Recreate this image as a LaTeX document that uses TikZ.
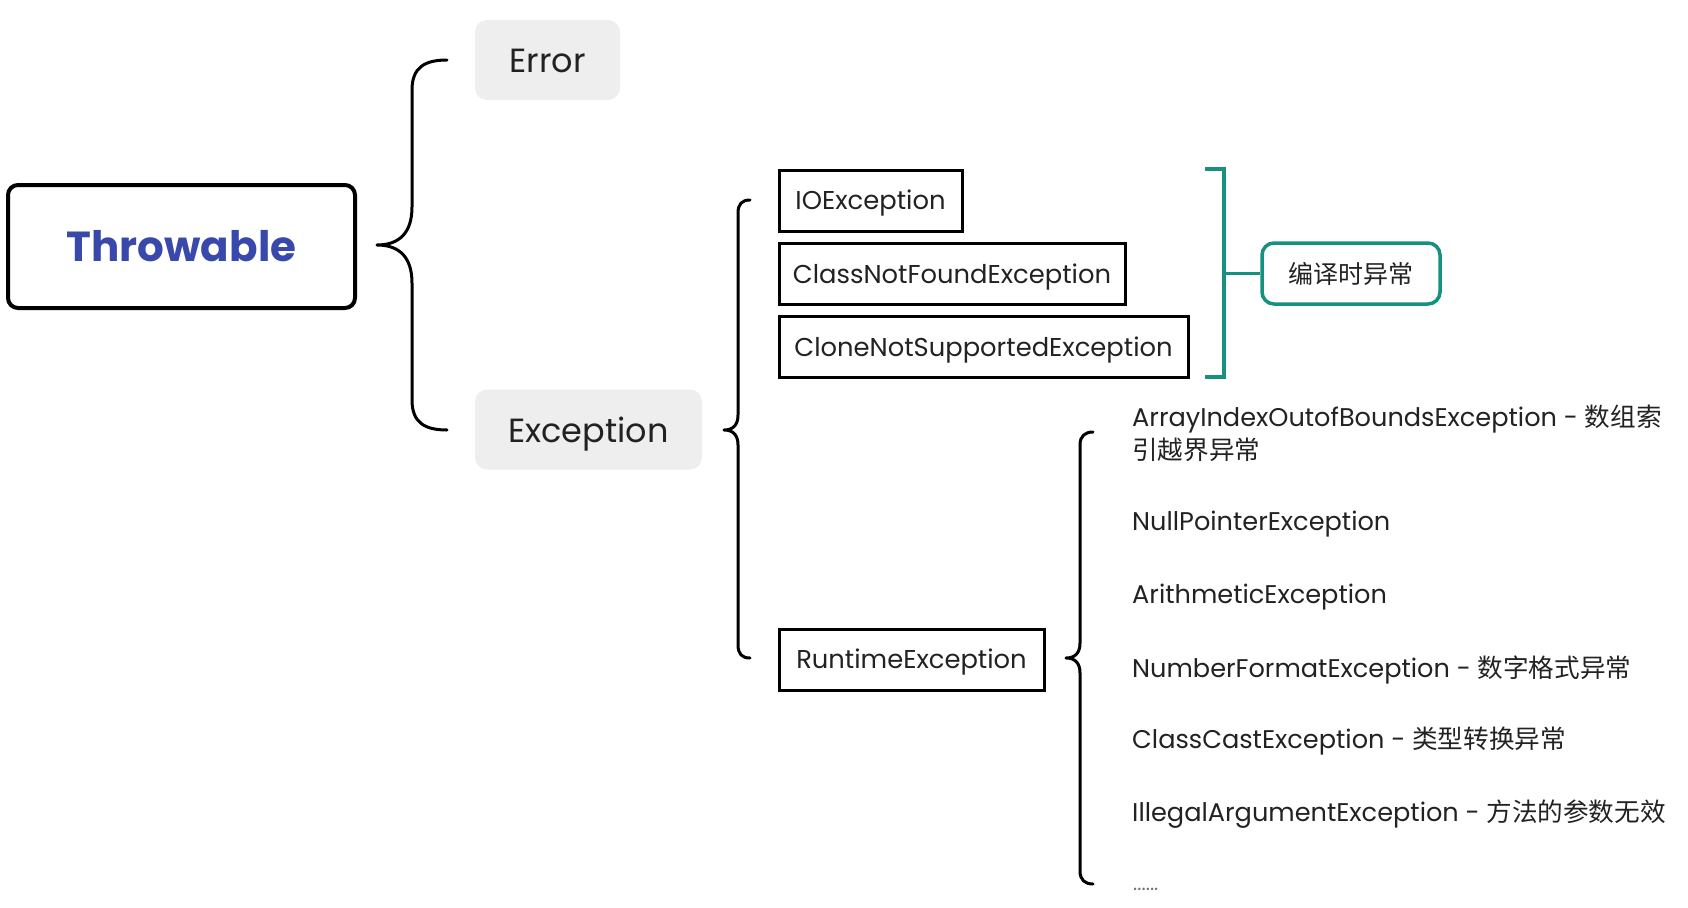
\documentclass[tikz,border=0pt]{standalone}
\usepackage{fontspec}
\setmainfont{Poppins}
\newfontfamily\cjk{Noto Sans CJK SC}
\definecolor{tblue}{RGB}{57,73,171}
\definecolor{tteal}{RGB}{22,145,128}
\definecolor{tgray}{RGB}{238,238,238}
\definecolor{ttext}{RGB}{34,34,34}
\begin{document}
\begin{tikzpicture}[x=1pt,y=-1pt,
  rootbox/.style={draw=black,line width=4pt,rounded corners=10pt,minimum width=347pt,minimum height=123pt,inner sep=0pt,
    font=\fontsize{42}{48}\selectfont\bfseries,text=tblue},
  graybox/.style={fill=tgray,rounded corners=12pt,minimum height=80pt,inner sep=0pt,
    text height=32.7pt,text depth=7.7pt,
    font=\fontsize{33.5}{40}\selectfont,text=ttext},
  exbox/.style={draw=black,line width=3pt,minimum height=61pt,inner sep=0pt,
    text height=24.5pt,text depth=5.9pt,
    font=\fontsize{25.8}{30}\selectfont,text=ttext},
  tealbox/.style={draw=tteal,line width=3.5pt,rounded corners=12pt,minimum height=61pt,minimum width=178pt,inner sep=0pt,
    font=\fontsize{25}{30}\selectfont\cjk,text=ttext},
  leaf/.style={anchor=west,inner sep=0pt,align=left,
    font=\fontsize{25.6}{33}\selectfont,text=ttext},
  bracepath/.style={draw=black,line width=3pt,line cap=round,line join=round},
  tealline/.style={draw=tteal,line width=3.5pt}
]
\useasboundingbox (0,0) rectangle (1688,907);

% nodes
\node[rootbox] (throw) at (181.5,246.5) {Throwable};
\node[graybox,minimum width=145pt] (err) at (547.5,60) {Error};
\node[graybox,minimum width=227pt] (exc) at (588.5,429.5) {Exception};

\node[exbox,minimum width=183pt] (io) at (870.5,200.5) {IOException};
\node[exbox,minimum width=346pt] (cnf) at (952,274) {ClassNotFoundException};
\node[exbox,minimum width=409pt] (cns) at (983.5,347) {CloneNotSupportedException};
\node[exbox,minimum width=265pt] (rt) at (911.5,659.5) {RuntimeException};

\node[tealbox] (cte) at (1351,273.5) {编译时异常};

\node[leaf] (arr) at (1132,433.5) {ArrayIndexOutofBoundsException - {\cjk 数组索}\\{\cjk 引越界异常}};
\node[leaf] (npe) at (1132,524) {NullPointerException};
\node[leaf] (ae) at (1132,597) {ArithmeticException};
\node[leaf] (nfe) at (1132,669.5) {NumberFormatException - {\cjk 数字格式异常}};
\node[leaf] (cce) at (1132,741.5) {ClassCastException - {\cjk 类型转换异常}};
\node[leaf] (iae) at (1132,814.5) {IllegalArgumentException - {\cjk 方法的参数无效}};
\node[leaf,font=\fontsize{20}{22}\selectfont,text=black!55] (dots) at (1133,889) {......};

% brace 1: Throwable -> Error / Exception
\coordinate (b1tip) at (377,245);
\coordinate (b1top) at (447,60);
\coordinate (b1bot) at (447,430);
\draw[bracepath] (b1top) .. controls (424,60) and (412,68) .. (412,90) -- (412,207)
  .. controls (412,232) and (400,245) .. (b1tip)
  .. controls (400,245) and (412,258) .. (412,283) -- (412,400)
  .. controls (412,422) and (424,430) .. (b1bot);

% brace 2: Exception -> IOException ... RuntimeException
\coordinate (b2tip) at (724,430);
\coordinate (b2top) at (750,200);
\coordinate (b2bot) at (750,658);
\draw[bracepath] (b2top) .. controls (742,200) and (738,204) .. (738,213) -- (738,415)
  .. controls (738,425) and (733,430) .. (b2tip)
  .. controls (733,430) and (738,435) .. (738,445) -- (738,645)
  .. controls (738,654) and (742,658) .. (b2bot);

% brace 3: RuntimeException -> leaves
\coordinate (b3tip) at (1066,658);
\coordinate (b3top) at (1093,432);
\coordinate (b3bot) at (1093,884);
\draw[bracepath] (b3top) .. controls (1085,432) and (1080,436) .. (1080,445) -- (1080,643)
  .. controls (1080,653) and (1075,658) .. (b3tip)
  .. controls (1075,658) and (1080,663) .. (1080,673) -- (1080,871)
  .. controls (1080,880) and (1085,884) .. (b3bot);

% teal bracket -> 编译时异常
\coordinate (tb1) at (1205,169);
\coordinate (tb2) at (1205,377);
\coordinate (tmid) at (1224,273.5);
\draw[tealline] (tb1) -- (1224,169) -- (1224,377) -- (tb2);
\draw[tealline] (tmid) -- (cte.west);
\end{tikzpicture}
\end{document}
